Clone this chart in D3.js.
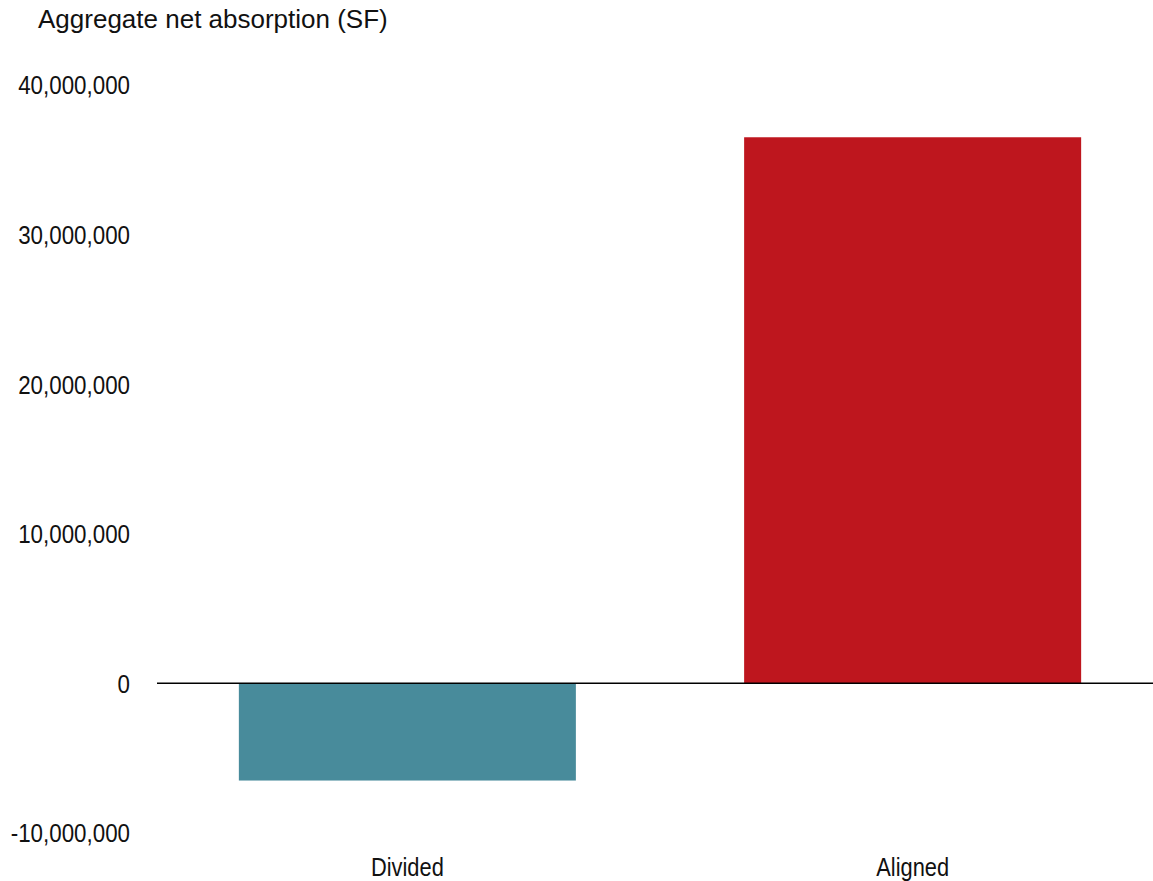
<!DOCTYPE html>
<html>
<head>
<meta charset="utf-8">
<script src="https://cdn.jsdelivr.net/npm/d3@7"></script>
<style>
  body { margin: 0; background: #fff; }
  svg text { font-family: "Liberation Sans Narrow", "Arial Narrow", "Liberation Sans", sans-serif; fill: #111; }
</style>
</head>
<body>
<div id="chart"></div>
<script>
var categories = ['Divided', 'Aligned'];
var values = [-6500000, 36500000];
var colors = ['#488B9B', '#BE161E'];
var tickValues = [-10000000, 0, 10000000, 20000000, 30000000, 40000000];
var title = 'Aggregate net absorption (SF)';

var width = 1153, height = 881;

var svg = d3.select('#chart').append('svg')
  .attr('width', width)
  .attr('height', height);

var x = d3.scaleBand()
  .domain(categories)
  .range([157, 1163])
  .paddingInner(0.333)
  .paddingOuter(0.162);

var y = d3.scaleLinear()
  .domain([-10000000, 40000000])
  .range([832.9, 84.9]);

var fmt = function(d) { return d3.format(',')(d).replace('\u2212', '-'); };

// squeeze text horizontally to mimic a narrow face
function narrow(sel, f) {
  sel.each(function() {
    var t = d3.select(this);
    var px = +t.attr('x'), py = +t.attr('y');
    t.attr('x', 0).attr('y', 0)
      .attr('transform', 'translate(' + px + ',' + py + ') scale(' + f + ',1)');
  });
}

// title
svg.append('text')
  .attr('x', 38)
  .attr('y', 28)
  .attr('font-size', 26)
  .text(title);

// y tick labels
svg.selectAll('.ytick')
  .data(tickValues)
  .enter()
  .append('text')
  .attr('class', 'ytick')
  .attr('x', 130)
  .attr('y', function(d) { return y(d) + 9.5; })
  .attr('text-anchor', 'end')
  .attr('font-size', 26)
  .text(fmt)
  .call(narrow, 0.86);

// bars
svg.selectAll('.bar')
  .data(values)
  .enter()
  .append('rect')
  .attr('class', 'bar')
  .attr('x', function(d, i) { return x(categories[i]); })
  .attr('width', x.bandwidth())
  .attr('y', function(d) { return y(Math.max(0, d)); })
  .attr('height', function(d) { return Math.abs(y(d) - y(0)); })
  .attr('fill', function(d, i) { return colors[i]; });

// zero line
svg.append('line')
  .attr('x1', 157)
  .attr('x2', width)
  .attr('y1', y(0))
  .attr('y2', y(0))
  .attr('stroke', '#000')
  .attr('stroke-width', 1.5);

// category labels
svg.selectAll('.xlab')
  .data(categories)
  .enter()
  .append('text')
  .attr('class', 'xlab')
  .attr('x', function(d) { return x(d) + x.bandwidth() / 2; })
  .attr('y', 876)
  .attr('text-anchor', 'middle')
  .attr('font-size', 26)
  .text(function(d) { return d; })
  .call(narrow, 0.84);
</script>
</body>
</html>
